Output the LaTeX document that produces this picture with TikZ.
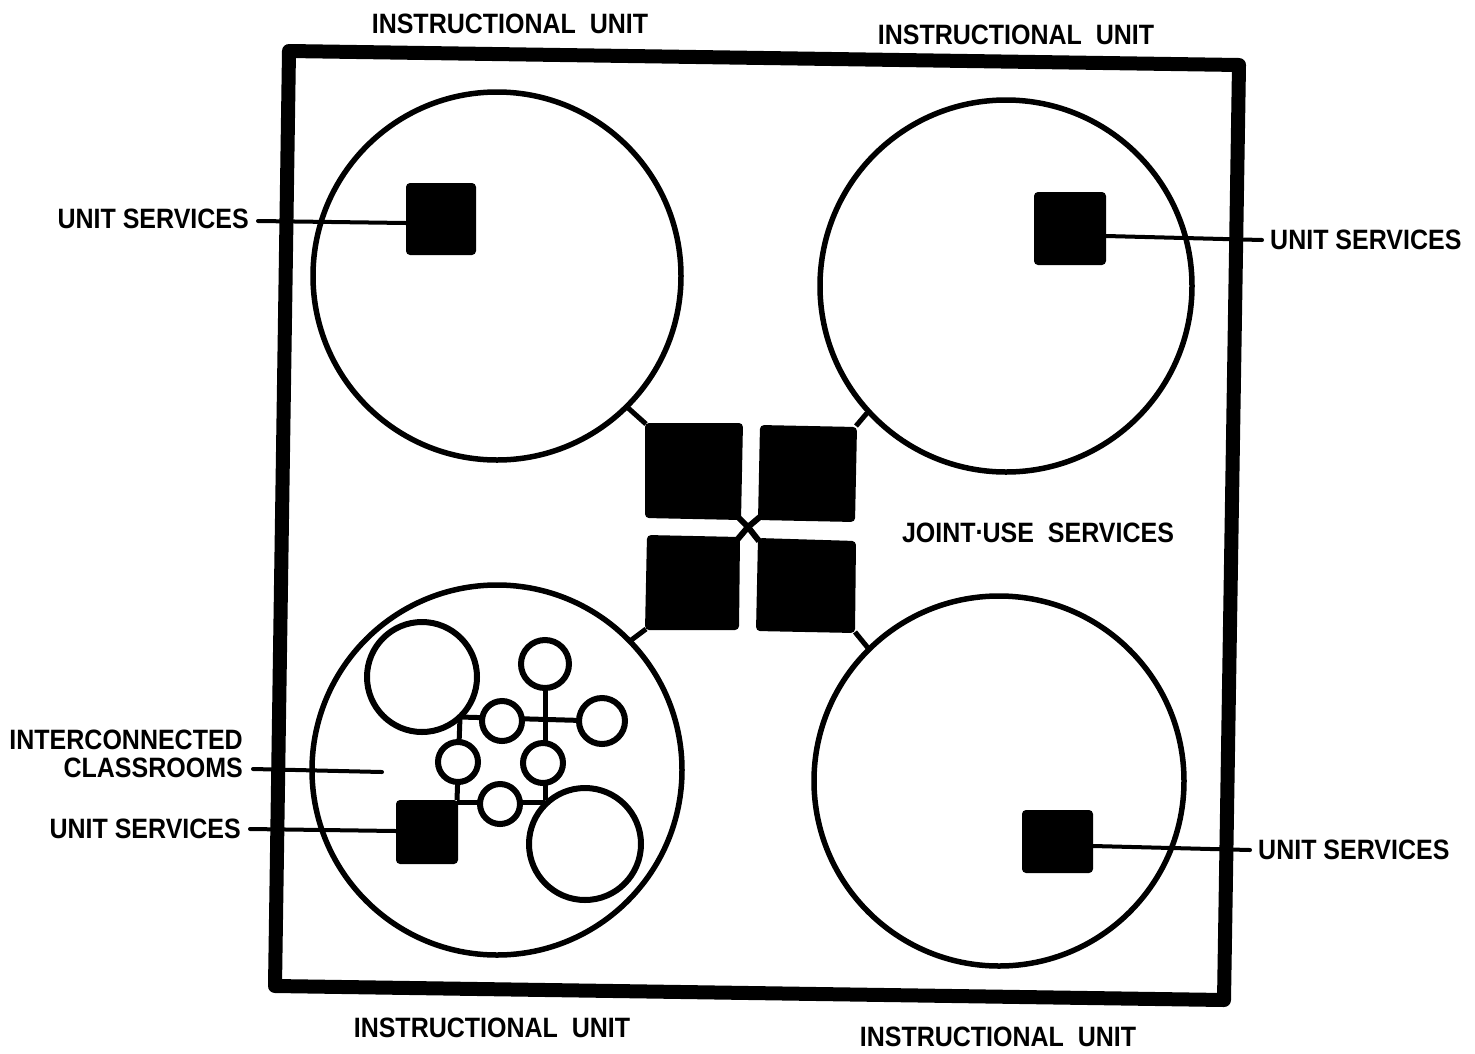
\documentclass[tikz,border=0pt]{standalone}
\usepackage{fontspec}
\usepackage{graphicx}
\setmainfont{Liberation Sans}
\begin{document}
\begin{tikzpicture}[x=1pt,y=-1pt,
  frame/.style={line width=14pt,line join=round},
  ring/.style={draw,line width=5.5pt,fill=white},
  room/.style={draw,line width=6pt,fill=white},
  link/.style={line width=5pt},
  cross/.style={line width=6pt},
  lead/.style={line width=4pt,line cap=round},
  block/.style={fill=black,rounded corners=4pt},
  lbl/.style={font=\bfseries\fontsize{25}{29}\selectfont,inner sep=0pt}]
\newcommand{\tall}[1]{\scalebox{1}[1.12]{#1}}
\newcommand{\middot}{\raisebox{0.3em}{.}}
\useasboundingbox (0,0) rectangle (1475,1053);

% building outline
\draw[frame] (289,51) -- (1239,65) -- (1224,1000) -- (275,986) -- cycle;

% joint-use service blocks and their links
\coordinate (hub) at (748,527);
\draw[cross] (738,517) -- (hub) -- (759,541);
\draw[cross] (761,516) -- (hub) -- (737,540);
\draw[link] (646,424) -- (627,407);
\draw[link] (856,426) -- (867,413);
\draw[link] (646,629) -- (630,641);
\draw[link] (855,632) -- (868,648);
\fill[block] (645,423) -- (743,423) -- (741,520) -- (645,518) -- cycle;
\fill[block] (760,425) -- (857,427) -- (855,522) -- (758,520) -- cycle;
\fill[block] (647,535) -- (740,537) -- (739,630) -- (645,630) -- cycle;
\fill[block] (758,538) -- (856,541) -- (855,633) -- (756,631) -- cycle;

% instructional units
\draw[ring,fill=none] (497,276) circle (184);
\draw[ring,fill=none] (1006,286) circle (186);
\draw[ring,fill=none] (497,770) circle (185);
\draw[ring,fill=none] (999,781) circle (185);

% unit service blocks
\fill[block] (406,183) rectangle (476,255);
\fill[block] (1034,192) rectangle (1106,265);
\fill[block] (396,800) rectangle (458,864);
\fill[block] (1022,810) rectangle (1093,873);
\coordinate (us1) at (406,223);
\coordinate (us2) at (1106,236);
\coordinate (us3) at (396,831);
\coordinate (us4) at (1093,846);

% interconnected classrooms
\draw[link] (460,717) -- (600,721);
\draw[link] (545,664) -- (545,800);
\draw[link] (460,717) -- (457,800);
\draw[link] (457,802) -- (545,802);
\draw[room] (422,677) circle (55);
\draw[room] (585,844) circle (56);
\draw[room] (545,664) circle (24);
\draw[room] (502,721) circle (20);
\draw[room] (602,721) circle (23);
\draw[room] (458,762) circle (20);
\draw[room] (543,763) circle (20);
\draw[room] (500,804) circle (20);
\coordinate (cls) at (382,772);

% labels
\node[lbl] at (510,24) {\tall{INSTRUCTIONAL\ \ UNIT}};
\node[lbl] at (1016,35) {\tall{INSTRUCTIONAL\ \ UNIT}};
\node[lbl] at (492,1028) {\tall{INSTRUCTIONAL\ \ UNIT}};
\node[lbl] at (998,1037) {\tall{INSTRUCTIONAL\ \ UNIT}};
\node[lbl] at (1038,533) {\tall{JOINT\middot USE\ \ SERVICES}};

\node[lbl,anchor=east] (t1) at (249,219) {\tall{UNIT SERVICES}};
\node[lbl,anchor=west] (t2) at (1270,240) {\tall{UNIT SERVICES}};
\node[lbl,anchor=east] (t3) at (241,829) {\tall{UNIT SERVICES}};
\node[lbl,anchor=west] (t4) at (1258,850) {\tall{UNIT SERVICES}};
\node[lbl,anchor=east,align=right] (t5) at (243,754)
  {\tall{INTERCONNECTED}\\[-1pt]\tall{CLASSROOMS}};

\draw[lead] (t1.east) ++(9,2) -- (us1);
\draw[lead] (us2) -- ([xshift=-8pt]t2.west);
\draw[lead] (t3.east) ++(9,0) -- (us3);
\draw[lead] (us4) -- ([xshift=-8pt]t4.west);
\draw[lead] (253,769) -- (cls);
\end{tikzpicture}
\end{document}
